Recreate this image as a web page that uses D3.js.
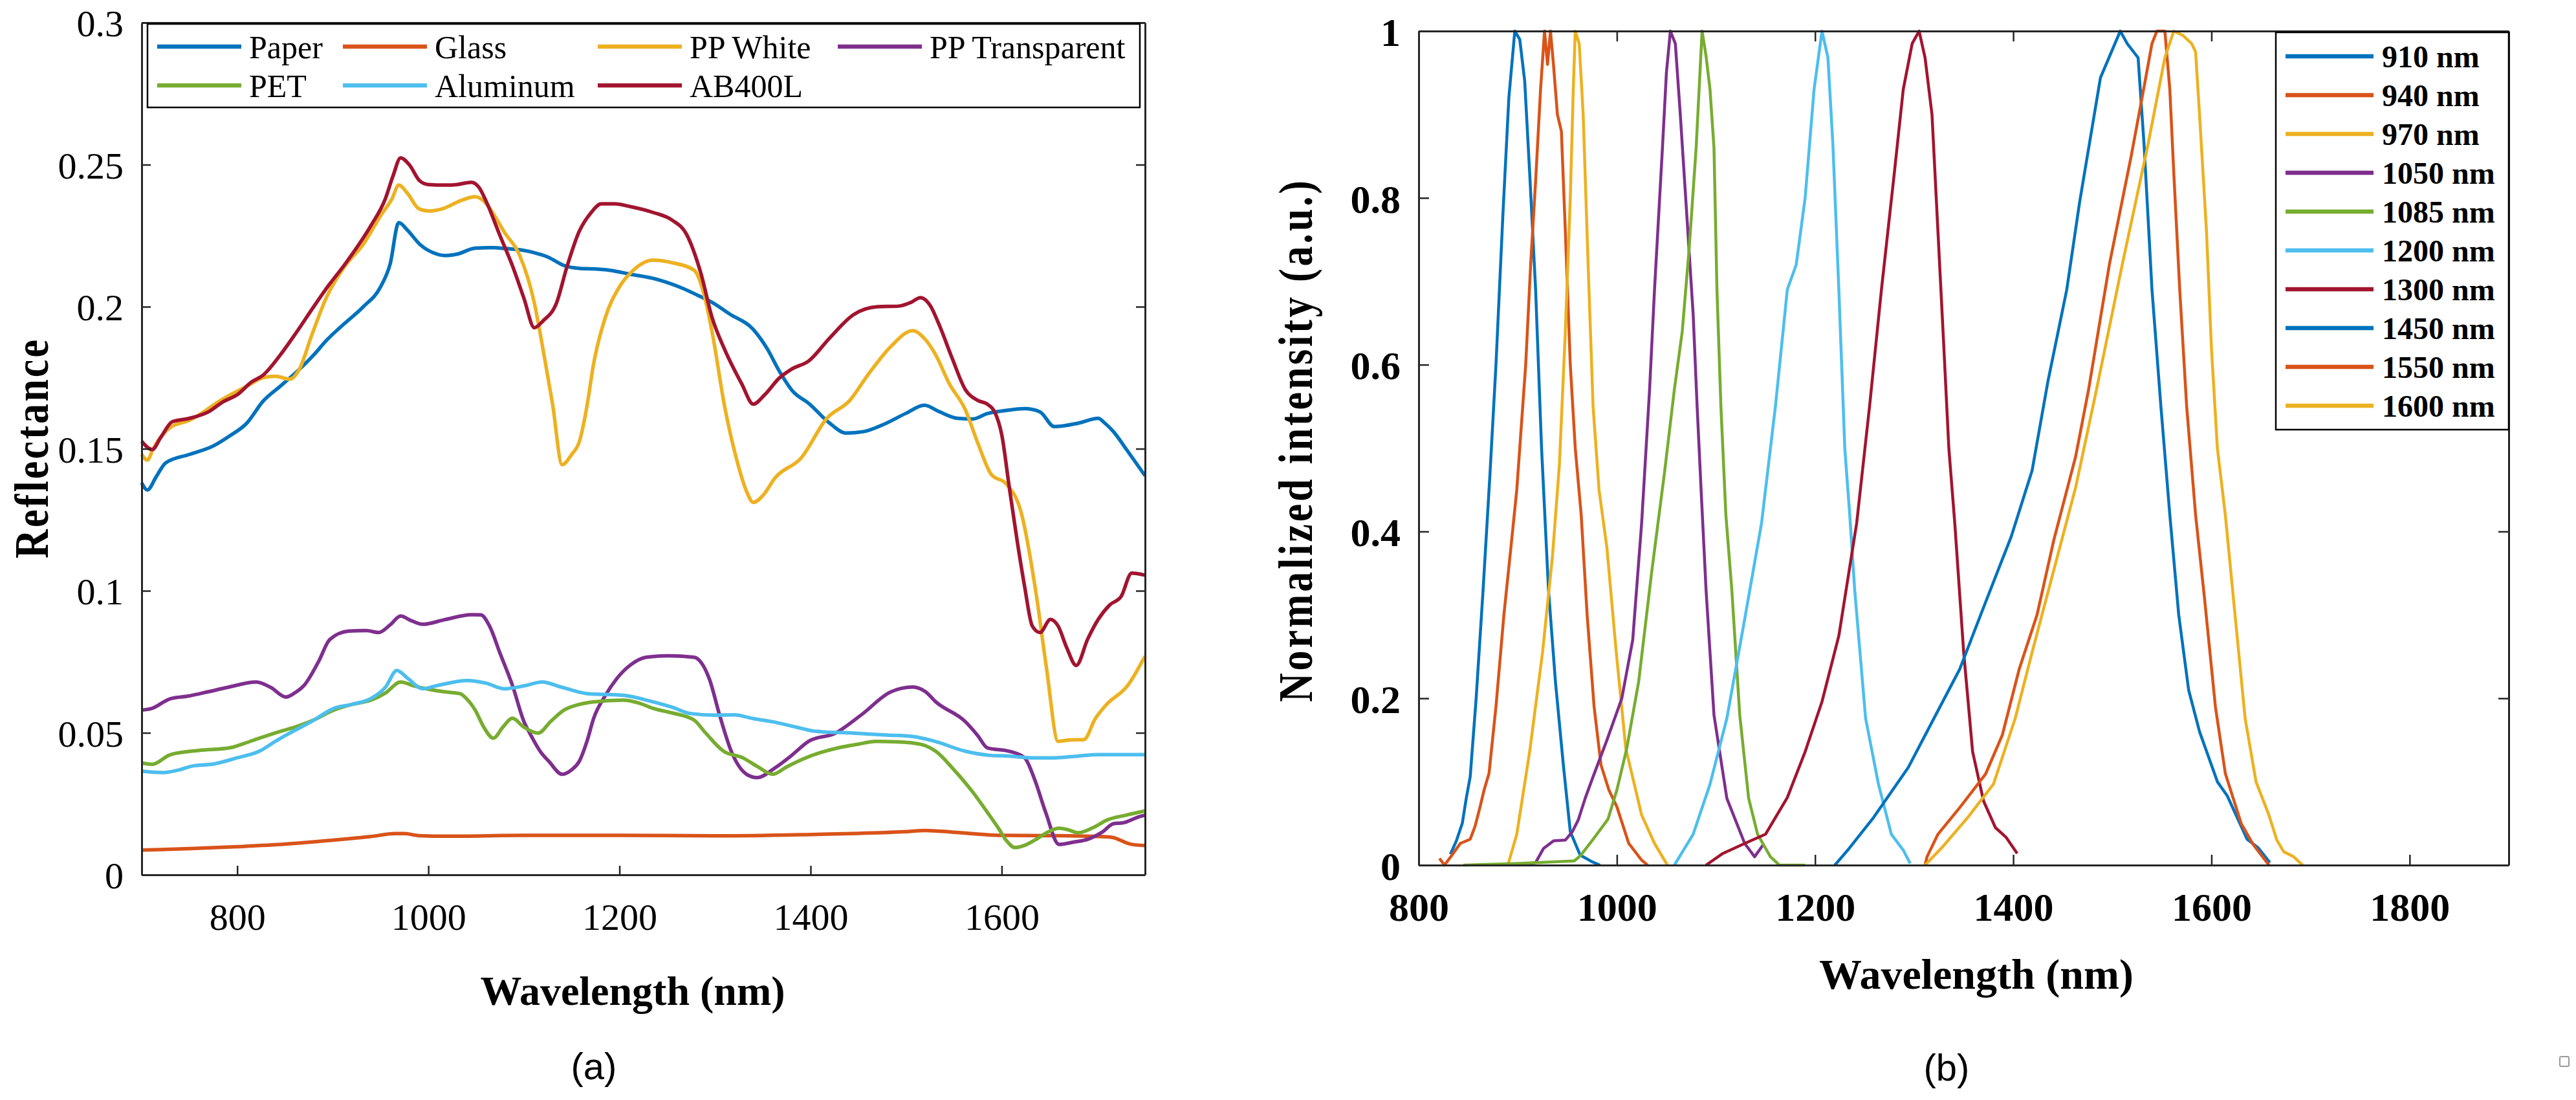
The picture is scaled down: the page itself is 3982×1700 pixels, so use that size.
<!DOCTYPE html>
<html>
<head>
<meta charset="utf-8">
<script src="https://cdn.jsdelivr.net/npm/d3@7/dist/d3.min.js"></script>
<style>
  body { margin: 0; background: #fff; }
</style>
</head>
<body>
<div id="figure"></div>
<script>
var svgWidth = 3982;
var svgHeight = 1700;

// ---------- (a) reflectance spectra, [wavelength nm, reflectance] ----------
var reflNames = ["Paper", "Glass", "PP White", "PP Transparent", "PET", "Aluminum", "AB400L"];

var paper = [[700,0.138],[706,0.1355],[715,0.14],[725,0.145],[750,0.148],[775,0.151],[792,0.1545],[810,0.159],[827,0.1667],[845,0.172],[862,0.177],[880,0.183],[893,0.188],[912,0.194],[932,0.2],[950,0.207],[960,0.215],[969,0.2296],[978,0.227],[991,0.222],[1005,0.219],[1018,0.218],[1030,0.2185],[1049,0.2206],[1065,0.2208],[1080,0.2205],[1100,0.2198],[1111,0.219],[1125,0.2175],[1142,0.2145],[1158,0.2135],[1173,0.2133],[1190,0.2128],[1212,0.2114],[1235,0.21],[1250,0.2085],[1266,0.2065],[1282,0.204],[1297,0.2015],[1315,0.1975],[1340,0.192],[1355,0.185],[1367,0.1775],[1382,0.17],[1398,0.166],[1420,0.159],[1437,0.1555],[1455,0.156],[1476,0.1585],[1500,0.1625],[1519,0.1653],[1535,0.163],[1554,0.1607],[1570,0.1605],[1585,0.1624],[1605,0.1635],[1624,0.1641],[1640,0.163],[1655,0.1578],[1680,0.159],[1701,0.1607],[1708,0.159],[1717,0.156],[1730,0.15],[1750,0.1405]];

var glass = [[700,0.0087],[750,0.0092],[800,0.0099],[850,0.0108],[900,0.0122],[940,0.0135],[965,0.0145],[975,0.0145],[990,0.0138],[1020,0.0136],[1100,0.0139],[1200,0.0139],[1300,0.0137],[1400,0.0142],[1450,0.0146],[1500,0.0152],[1520,0.0156],[1550,0.015],[1600,0.0139],[1650,0.0138],[1700,0.0135],[1715,0.0132],[1735,0.0108],[1750,0.0103]];

var ppWhite = [[700,0.148],[706,0.146],[712,0.15],[730,0.1575],[750,0.16],[785,0.1675],[810,0.172],[827,0.175],[840,0.1755],[855,0.1745],[865,0.178],[878,0.19],[893,0.203],[912,0.214],[932,0.222],[950,0.232],[962,0.238],[969,0.2428],[978,0.24],[990,0.2345],[1000,0.2337],[1015,0.2345],[1035,0.2375],[1049,0.2387],[1060,0.2365],[1068,0.2327],[1080,0.226],[1095,0.2185],[1111,0.2012],[1120,0.185],[1130,0.1657],[1140,0.1444],[1150,0.148],[1158,0.1525],[1166,0.165],[1173,0.18],[1185,0.196],[1200,0.207],[1215,0.213],[1235,0.2164],[1255,0.2155],[1278,0.2129],[1288,0.205],[1297,0.191],[1310,0.165],[1322,0.147],[1333,0.135],[1340,0.1311],[1350,0.1335],[1363,0.1398],[1390,0.1467],[1417,0.1607],[1441,0.167],[1460,0.176],[1484,0.186],[1507,0.1916],[1520,0.1885],[1531,0.183],[1545,0.173],[1562,0.1637],[1575,0.152],[1589,0.141],[1605,0.1375],[1620,0.128],[1636,0.099],[1647,0.0725],[1659,0.047],[1672,0.0475],[1686,0.0476],[1698,0.055],[1709,0.0597],[1732,0.0667],[1750,0.077]];

var ppTransparent = [[700,0.058],[710,0.0585],[730,0.062],[750,0.063],[769,0.0644],[790,0.066],[820,0.0679],[835,0.066],[851,0.0626],[860,0.064],[870,0.0667],[885,0.075],[897,0.0829],[917,0.0858],[935,0.086],[948,0.0853],[960,0.088],[971,0.0911],[982,0.0895],[994,0.0882],[1018,0.0899],[1045,0.0916],[1055,0.0915],[1064,0.0876],[1075,0.078],[1088,0.0667],[1100,0.054],[1107,0.0493],[1118,0.043],[1126,0.04],[1140,0.0354],[1150,0.037],[1158,0.04],[1166,0.047],[1173,0.0551],[1185,0.063],[1197,0.069],[1212,0.074],[1228,0.0766],[1251,0.0771],[1278,0.0766],[1287,0.074],[1294,0.069],[1305,0.056],[1317,0.0435],[1333,0.0354],[1344,0.0342],[1363,0.0377],[1380,0.042],[1398,0.047],[1426,0.0499],[1453,0.0563],[1484,0.0644],[1507,0.0661],[1520,0.0645],[1531,0.0609],[1562,0.0539],[1575,0.049],[1585,0.0447],[1608,0.0435],[1624,0.0412],[1634,0.034],[1646,0.022],[1660,0.0107],[1675,0.0115],[1690,0.0125],[1705,0.015],[1717,0.018],[1727,0.0183],[1745,0.0206],[1750,0.021]];

var pet = [[700,0.0394],[711,0.0389],[730,0.0423],[760,0.0438],[792,0.0447],[805,0.046],[823,0.0481],[845,0.0505],[862,0.0522],[880,0.0545],[901,0.058],[920,0.06],[940,0.0615],[955,0.064],[971,0.0679],[985,0.0665],[998,0.0655],[1015,0.0645],[1033,0.0638],[1040,0.062],[1049,0.058],[1058,0.052],[1068,0.0481],[1078,0.052],[1088,0.0551],[1100,0.052],[1115,0.0499],[1128,0.054],[1142,0.058],[1158,0.06],[1173,0.0609],[1204,0.0615],[1220,0.0605],[1235,0.0586],[1255,0.057],[1278,0.0545],[1290,0.05],[1309,0.0435],[1329,0.0412],[1345,0.038],[1360,0.0354],[1375,0.038],[1391,0.0406],[1410,0.043],[1429,0.0447],[1450,0.046],[1468,0.047],[1490,0.0468],[1507,0.0464],[1520,0.0455],[1531,0.0435],[1550,0.037],[1570,0.029],[1585,0.022],[1597,0.0162],[1605,0.012],[1614,0.0096],[1625,0.0105],[1636,0.0125],[1648,0.015],[1660,0.0164],[1670,0.0158],[1680,0.0148],[1695,0.0165],[1711,0.0194],[1730,0.021],[1750,0.0225]];

var aluminum = [[700,0.0365],[722,0.036],[740,0.037],[753,0.0383],[775,0.039],[800,0.0412],[823,0.0435],[840,0.047],[855,0.0499],[878,0.054],[901,0.0586],[920,0.06],[940,0.0621],[955,0.066],[967,0.0719],[979,0.069],[994,0.0655],[1010,0.0667],[1041,0.0684],[1060,0.0675],[1080,0.0655],[1100,0.0665],[1119,0.0679],[1140,0.066],[1166,0.0638],[1204,0.0632],[1235,0.0609],[1255,0.059],[1274,0.0568],[1300,0.0562],[1320,0.0563],[1340,0.055],[1360,0.0539],[1385,0.052],[1406,0.0505],[1445,0.0499],[1480,0.0492],[1507,0.0487],[1530,0.047],[1562,0.0435],[1590,0.042],[1608,0.0418],[1630,0.0412],[1655,0.0412],[1680,0.0418],[1701,0.0423],[1750,0.0423]];

var ab400l = [[700,0.1526],[711,0.1497],[720,0.154],[732,0.1595],[750,0.1607],[770,0.163],[785,0.1665],[800,0.169],[815,0.1735],[827,0.1759],[845,0.183],[862,0.191],[878,0.199],[893,0.2063],[915,0.216],[940,0.2286],[955,0.238],[963,0.246],[971,0.2524],[980,0.25],[991,0.2443],[1000,0.243],[1018,0.2428],[1030,0.243],[1045,0.2438],[1053,0.242],[1061,0.2367],[1075,0.225],[1088,0.2144],[1100,0.203],[1111,0.1926],[1120,0.195],[1134,0.2012],[1145,0.214],[1158,0.2266],[1170,0.233],[1181,0.2362],[1195,0.2362],[1212,0.2352],[1235,0.2332],[1255,0.2305],[1270,0.2256],[1285,0.212],[1297,0.1961],[1310,0.185],[1328,0.1728],[1340,0.1657],[1352,0.169],[1367,0.1748],[1380,0.178],[1398,0.1809],[1420,0.189],[1445,0.1972],[1470,0.2],[1492,0.2002],[1505,0.2015],[1515,0.2032],[1525,0.2005],[1534,0.1941],[1548,0.182],[1562,0.1708],[1575,0.167],[1585,0.1657],[1593,0.1627],[1600,0.155],[1608,0.1363],[1616,0.118],[1624,0.1015],[1632,0.0876],[1640,0.0853],[1651,0.0899],[1659,0.0876],[1668,0.08],[1678,0.0737],[1690,0.083],[1701,0.0899],[1713,0.095],[1725,0.098],[1736,0.1062],[1750,0.1055]];

var reflXTicks = [800, 1000, 1200, 1400, 1600];
var reflYTicks = [0, 0.05, 0.1, 0.15, 0.2, 0.25, 0.3];

// ---------- (b) normalized LED spectra, [wavelength nm, intensity] ----------
var ledNames = ["910 nm", "940 nm", "970 nm", "1050 nm", "1085 nm", "1200 nm", "1300 nm", "1450 nm", "1550 nm", "1600 nm"];

var led910 = [[832,0.013],[838,0.029],[844,0.05],[848,0.08],[852,0.106],[858,0.2],[865,0.33],[872,0.47],[878,0.6],[885,0.78],[891,0.92],[897,1.0],[902,0.99],[907,0.94],[912,0.83],[918,0.69],[924,0.5],[931,0.33],[938,0.22],[946,0.12],[953,0.04],[963,0.012],[975,0.004],[983,0]];
var led940 = [[821,0.008],[826,0],[833,0.011],[842,0.026],[852,0.031],[857,0.047],[862,0.07],[866,0.09],[871,0.11],[878,0.19],[886,0.3],[893,0.38],[899,0.45],[908,0.6],[913,0.72],[918,0.82],[923,0.93],[927,1.0],[930,0.96],[933,1.0],[936,0.96],[940,0.9],[944,0.88],[948,0.76],[953,0.6],[958,0.5],[964,0.42],[970,0.3],[977,0.19],[984,0.12],[992,0.09],[1000,0.07],[1012,0.026],[1025,0.006],[1031,0]];
var led970 = [[890,0],[899,0.037],[912,0.136],[925,0.255],[935,0.37],[942,0.48],[948,0.64],[953,0.8],[956,0.93],[958,1.0],[962,0.985],[966,0.9],[971,0.72],[976,0.55],[982,0.45],[990,0.38],[999,0.26],[1009,0.14],[1025,0.06],[1038,0.026],[1051,0]];
var led1050 = [[900,0],[918,0.003],[926,0.02],[936,0.029],[948,0.03],[955,0.04],[961,0.054],[968,0.08],[976,0.106],[990,0.15],[1005,0.2],[1016,0.27],[1025,0.41],[1033,0.57],[1038,0.69],[1046,0.86],[1050,0.95],[1054,1.0],[1059,0.985],[1064,0.9],[1070,0.79],[1077,0.66],[1081,0.55],[1085,0.45],[1090,0.33],[1098,0.18],[1111,0.08],[1129,0.026],[1139,0.01],[1148,0.025]];
var led1085 = [[845,0],[900,0.002],[957,0.005],[963,0.011],[976,0.031],[991,0.055],[1000,0.09],[1010,0.14],[1022,0.22],[1035,0.35],[1048,0.47],[1058,0.57],[1066,0.64],[1073,0.74],[1080,0.86],[1086,1.0],[1090,0.97],[1094,0.93],[1098,0.86],[1101,0.69],[1105,0.55],[1110,0.42],[1116,0.33],[1124,0.18],[1133,0.08],[1142,0.037],[1155,0.01],[1164,0],[1190,0]];
var led1200 = [[1058,0],[1077,0.037],[1094,0.097],[1111,0.176],[1129,0.295],[1146,0.41],[1160,0.55],[1172,0.69],[1181,0.72],[1190,0.8],[1199,0.93],[1207,1.0],[1213,0.968],[1218,0.864],[1224,0.69],[1230,0.5],[1235,0.42],[1240,0.33],[1251,0.176],[1264,0.097],[1277,0.037],[1289,0.018],[1296,0.002]];
var led1300 = [[1090,0],[1107,0.014],[1129,0.026],[1150,0.037],[1172,0.081],[1190,0.136],[1207,0.196],[1224,0.275],[1242,0.41],[1255,0.55],[1267,0.69],[1280,0.83],[1289,0.93],[1298,0.985],[1305,1.0],[1311,0.968],[1318,0.9],[1324,0.76],[1330,0.62],[1335,0.5],[1341,0.41],[1350,0.255],[1359,0.136],[1370,0.077],[1382,0.045],[1393,0.033],[1404,0.014]];
var led1450 = [[1220,0],[1233,0.018],[1259,0.057],[1294,0.117],[1320,0.176],[1346,0.235],[1372,0.315],[1398,0.394],[1419,0.473],[1435,0.58],[1454,0.69],[1467,0.795],[1488,0.944],[1508,1.0],[1515,0.985],[1526,0.968],[1532,0.864],[1540,0.69],[1549,0.55],[1558,0.42],[1567,0.3],[1577,0.21],[1588,0.16],[1606,0.1],[1616,0.083],[1636,0.031],[1647,0.021],[1659,0.003]];
var led1550 = [[1311,0],[1313,0.01],[1324,0.037],[1346,0.069],[1372,0.109],[1389,0.156],[1406,0.235],[1424,0.3],[1441,0.39],[1463,0.49],[1476,0.57],[1497,0.72],[1519,0.85],[1532,0.933],[1540,0.985],[1545,1.0],[1553,1.0],[1558,0.93],[1562,0.83],[1568,0.69],[1575,0.55],[1584,0.42],[1593,0.32],[1604,0.19],[1614,0.11],[1622,0.08],[1630,0.05],[1642,0.025],[1658,0]];
var led1600 = [[1311,0],[1328,0.021],[1354,0.057],[1380,0.097],[1402,0.176],[1419,0.255],[1441,0.354],[1463,0.453],[1484,0.57],[1510,0.72],[1536,0.864],[1553,0.968],[1562,1.0],[1571,0.995],[1580,0.985],[1584,0.975],[1588,0.9],[1595,0.76],[1600,0.62],[1606,0.5],[1614,0.42],[1623,0.31],[1634,0.176],[1645,0.1],[1658,0.06],[1666,0.03],[1673,0.016],[1683,0.01],[1692,0]];

var ledXTicks = [800, 1000, 1200, 1400, 1600, 1800];
var ledYTicks = [0, 0.2, 0.4, 0.6, 0.8, 1];

// MATLAB default line colours
var matlabColors = ["#0072BD", "#D95319", "#EDB120", "#7E2F8E", "#77AC30", "#4DBEEE", "#A2142F"];

var serif = "'Liberation Serif', 'Times New Roman', Times, 'DejaVu Serif', serif";
var sans = "'Liberation Sans', Arial, sans-serif";

var svg = d3.select("#figure")
  .append("svg")
  .attr("width", svgWidth)
  .attr("height", svgHeight)
  .style("display", "block");

svg.append("rect")
  .attr("width", svgWidth)
  .attr("height", svgHeight)
  .attr("fill", "#fff");

// box axes with inward ticks on all four sides (MATLAB "box on")
function drawAxes(g, xScale, yScale, w, h, xTicks, yTicks, opt) {
  var tick = opt.tickLen;

  var bottomAxis = d3.axisBottom(xScale).tickValues(xTicks).tickSizeInner(-tick).tickSizeOuter(0).tickFormat(d => String(d));
  var leftAxis = d3.axisLeft(yScale).tickValues(yTicks).tickSizeInner(-tick).tickSizeOuter(0).tickFormat(d => String(d));
  var topAxis = d3.axisTop(xScale).tickValues(xTicks).tickSizeInner(-tick).tickSizeOuter(0).tickFormat("");
  var rightAxis = d3.axisRight(yScale).tickValues(yTicks).tickSizeInner(-tick).tickSizeOuter(0).tickFormat("");

  var xAxis = g.append("g")
    .attr("transform", `translate(0, ${h})`)
    .call(bottomAxis);
  var yAxis = g.append("g")
    .call(leftAxis);
  var tAxis = g.append("g")
    .call(topAxis);
  var rAxis = g.append("g")
    .attr("transform", `translate(${w}, 0)`)
    .call(rightAxis);

  [xAxis, yAxis, tAxis, rAxis].forEach(function(a) {
    a.attr("font-family", serif).attr("font-size", opt.tickFont);
    a.select(".domain").attr("stroke", "#262626").attr("stroke-width", 3);
    a.selectAll(".tick line").attr("stroke", "#262626").attr("stroke-width", 2.5);
  });

  xAxis.selectAll("text")
    .attr("y", opt.xLabelBase)
    .attr("dy", null)
    .attr("fill", "#000")
    .style("font-family", serif)
    .style("font-size", opt.tickFont + "px")
    .style("font-weight", opt.tickWeight);

  yAxis.selectAll("text")
    .attr("x", -opt.yLabelGap)
    .attr("dy", "0.36em")
    .attr("fill", "#000")
    .style("font-family", serif)
    .style("font-size", opt.tickFont + "px")
    .style("font-weight", opt.tickWeight);
}

// ---------- panel (a) ----------
var aLeft = 219, aTop = 35, aRight = 1770, aBottom = 1352;
var aW = aRight - aLeft, aH = aBottom - aTop;

var xRefl = d3.scaleLinear().domain([700, 1750]).range([0, aW]);
var yRefl = d3.scaleLinear().domain([0, 0.3]).range([aH, 0]);

var gA = svg.append("g")
  .attr("transform", `translate(${aLeft}, ${aTop})`);

var reflData = [paper, glass, ppWhite, ppTransparent, pet, aluminum, ab400l];

var reflLine = d3.line()
  .x(d => xRefl(d[0]))
  .y(d => yRefl(d[1]))
  .curve(d3.curveMonotoneX);

gA.selectAll(".refl")
  .data(reflData)
  .enter()
  .append("path")
  .attr("class", "refl")
  .attr("fill", "none")
  .attr("stroke", (d, i) => matlabColors[i])
  .attr("stroke-width", 5.5)
  .attr("stroke-linejoin", "round")
  .attr("d", reflLine);

drawAxes(gA, xRefl, yRefl, aW, aH, reflXTicks, reflYTicks, {
  tickLen: 14, tickFont: 58, tickWeight: "normal", xLabelBase: 85, yLabelGap: 28
});

// legend (a): two rows, four columns
var legA = svg.append("g");
legA.append("rect")
  .attr("x", 228).attr("y", 37)
  .attr("width", 1534).attr("height", 129)
  .attr("fill", "#fff")
  .attr("stroke", "#000")
  .attr("stroke-width", 2.5);

var legACols = [243, 530, 924, 1295];
var legARows = [72, 132];

var legAItems = legA.selectAll(".item")
  .data(reflNames)
  .enter()
  .append("g")
  .attr("transform", (d, i) => `translate(${legACols[i % 4]}, ${legARows[Math.floor(i / 4)]})`);

legAItems.append("line")
  .attr("x1", 0).attr("x2", 130)
  .attr("stroke", (d, i) => matlabColors[i])
  .attr("stroke-width", 6.5);

legAItems.append("text")
  .attr("x", 142)
  .attr("dy", "0.35em")
  .style("font-family", serif)
  .style("font-size", "50px")
  .text(d => d);

// axis titles (a)
svg.append("text")
  .attr("transform", "translate(74, 694) rotate(-90) scale(1, 1.2)")
  .attr("text-anchor", "middle")
  .attr("textLength", 338)
  .attr("lengthAdjust", "spacing")
  .style("font-family", serif)
  .style("font-size", "62px")
  .style("font-weight", "bold")
  .text("Reflectance");

svg.append("text")
  .attr("x", 978).attr("y", 1553)
  .attr("text-anchor", "middle")
  .style("font-family", serif)
  .style("font-size", "64px")
  .style("font-weight", "bold")
  .text("Wavelength (nm)");

svg.append("text")
  .attr("x", 918).attr("y", 1648)
  .attr("text-anchor", "middle")
  .attr("dy", "0.35em")
  .style("font-family", sans)
  .style("font-size", "58px")
  .text("(a)");

// ---------- panel (b) ----------
var bLeft = 2193, bTop = 48, bRight = 3878, bBottom = 1337;
var bW = bRight - bLeft, bH = bBottom - bTop;

var xLed = d3.scaleLinear().domain([800, 1900]).range([0, bW]);
var yLed = d3.scaleLinear().domain([0, 1]).range([bH, 0]);

var gB = svg.append("g")
  .attr("transform", `translate(${bLeft}, ${bTop})`);

var ledData = [led910, led940, led970, led1050, led1085, led1200, led1300, led1450, led1550, led1600];

var ledLine = d3.line()
  .x(d => xLed(d[0]))
  .y(d => yLed(d[1]));

gB.selectAll(".led")
  .data(ledData)
  .enter()
  .append("path")
  .attr("class", "led")
  .attr("fill", "none")
  .attr("stroke", (d, i) => matlabColors[i % 7])
  .attr("stroke-width", 4.5)
  .attr("stroke-linejoin", "round")
  .attr("d", ledLine);

drawAxes(gB, xLed, yLed, bW, bH, ledXTicks, ledYTicks, {
  tickLen: 16, tickFont: 62, tickWeight: "bold", xLabelBase: 86, yLabelGap: 28
});

// legend (b): one column
var legB = svg.append("g");
legB.append("rect")
  .attr("x", 3518).attr("y", 50)
  .attr("width", 360).attr("height", 614)
  .attr("fill", "#fff")
  .attr("stroke", "#000")
  .attr("stroke-width", 2.5);

var legBItems = legB.selectAll(".item")
  .data(ledNames)
  .enter()
  .append("g")
  .attr("transform", (d, i) => `translate(3533, ${87 + i * 60})`);

legBItems.append("line")
  .attr("x1", 0).attr("x2", 136)
  .attr("stroke", (d, i) => matlabColors[i % 7])
  .attr("stroke-width", 6.5);

legBItems.append("text")
  .attr("x", 149)
  .attr("dy", "0.35em")
  .style("font-family", serif)
  .style("font-size", "48px")
  .style("font-weight", "bold")
  .text(d => d);

// axis titles (b)
svg.append("text")
  .attr("transform", "translate(2028, 682) rotate(-90) scale(1, 1.2)")
  .attr("text-anchor", "middle")
  .attr("textLength", 806)
  .attr("lengthAdjust", "spacing")
  .style("font-family", serif)
  .style("font-size", "62px")
  .style("font-weight", "bold")
  .text("Normalized intensity (a.u.)");

svg.append("text")
  .attr("x", 3055).attr("y", 1528)
  .attr("text-anchor", "middle")
  .style("font-family", serif)
  .style("font-size", "66px")
  .style("font-weight", "bold")
  .text("Wavelength (nm)");

svg.append("text")
  .attr("x", 3009).attr("y", 1650)
  .attr("text-anchor", "middle")
  .attr("dy", "0.35em")
  .style("font-family", sans)
  .style("font-size", "58px")
  .text("(b)");

// small page marker bottom right
svg.append("rect")
  .attr("x", 3957).attr("y", 1633)
  .attr("width", 14).attr("height", 15)
  .attr("rx", 2)
  .attr("fill", "none")
  .attr("stroke", "#999")
  .attr("stroke-width", 2);
</script>
</body>
</html>
